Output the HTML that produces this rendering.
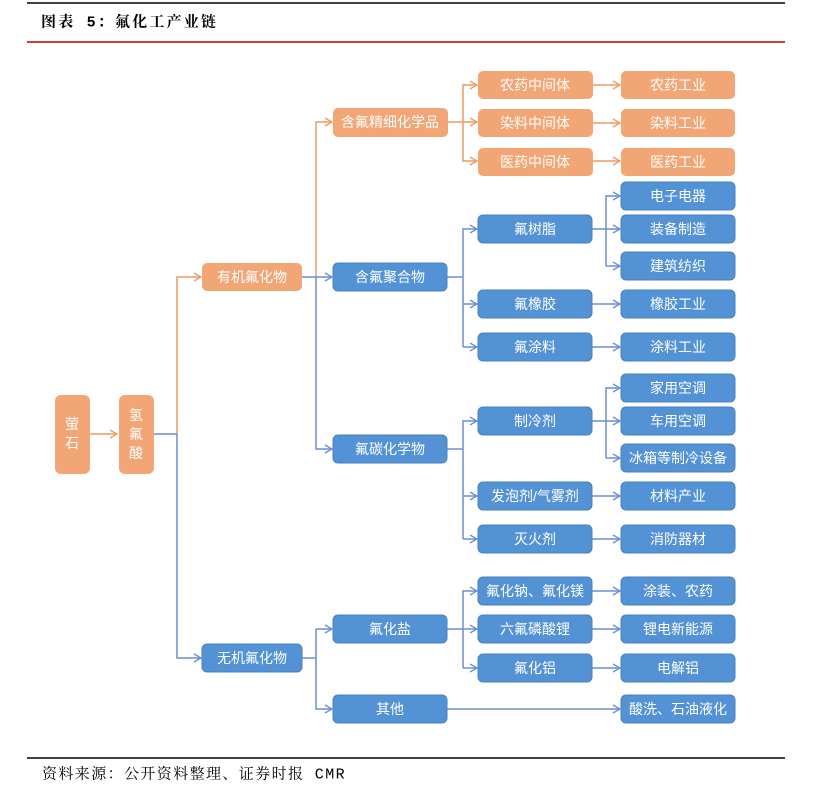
<!DOCTYPE html>
<html><head><meta charset="utf-8">
<style>
html,body{margin:0;padding:0;background:#fff;}
body{width:815px;height:803px;overflow:hidden;}
svg text{font-family:"Liberation Sans","Noto Sans CJK SC",sans-serif;fill:#fff;font-size:14px;text-anchor:middle;dominant-baseline:central;}
svg text.hd{font-family:"Liberation Mono","Noto Serif CJK SC",serif;fill:#000;text-anchor:start;font-size:15px;}
</style></head><body>
<svg width="815" height="803" viewBox="0 0 815 803" xmlns="http://www.w3.org/2000/svg">
<defs>
<marker id="ao" markerWidth="10" markerHeight="10" refX="8" refY="5" orient="auto" markerUnits="userSpaceOnUse"><polyline points="1,1 8,5 1,9" fill="none" stroke="#ee9a64" stroke-width="1.3"/></marker>
<marker id="ab" markerWidth="10" markerHeight="10" refX="8" refY="5" orient="auto" markerUnits="userSpaceOnUse"><polyline points="1,1 8,5 1,9" fill="none" stroke="#6a8fd4" stroke-width="1.3"/></marker>
</defs>
<line x1="27" y1="3" x2="785" y2="3" stroke="#000" stroke-width="1.5"/>
<text class="hd" x="41" y="23" font-weight="bold" letter-spacing="2.2">图表 5：氟化工产业链</text>
<line x1="27" y1="42" x2="785" y2="42" stroke="#c00000" stroke-width="1.5"/>
<line x1="27" y1="758" x2="785" y2="758" stroke="#000" stroke-width="1.5"/>
<text class="hd" x="42" y="775" letter-spacing="1.4">资料来源：公开资料整理、证券时报 CMR</text>

<g fill="none" stroke="#ee9a64" stroke-width="1.5">
<line x1="90" y1="434" x2="117" y2="434" marker-end="url(#ao)"/>
<polyline points="177,434 177,277 201,277" marker-end="url(#ao)"/>
<polyline points="316,277 316,122 332,122" marker-end="url(#ao)"/>
<line x1="448" y1="122" x2="477" y2="122" marker-end="url(#ao)"/>
<polyline points="463,122 463,85 477,85" marker-end="url(#ao)"/>
<polyline points="463,122 463,161 477,161" marker-end="url(#ao)"/>
<line x1="593" y1="85" x2="620" y2="85" marker-end="url(#ao)"/>
<line x1="593" y1="123" x2="620" y2="123" marker-end="url(#ao)"/>
<line x1="593" y1="161" x2="620" y2="161" marker-end="url(#ao)"/>
</g>
<g fill="none" stroke="#6a8fd4" stroke-width="1.5">
<line x1="154" y1="434" x2="177" y2="434"/>
<polyline points="177,434 177,658 201,658" marker-end="url(#ab)"/>
<line x1="302" y1="277" x2="332" y2="277" marker-end="url(#ab)"/>
<polyline points="316,277 316,449 332,449" marker-end="url(#ab)"/>
<line x1="302" y1="658" x2="316" y2="658"/>
<polyline points="316,629 316,709 332,709" marker-end="url(#ab)"/>
<line x1="316" y1="629" x2="332" y2="629" marker-end="url(#ab)"/>
<line x1="447" y1="277" x2="463" y2="277"/>
<polyline points="463,347 463,229 477,229" marker-end="url(#ab)"/>
<line x1="463" y1="304" x2="477" y2="304" marker-end="url(#ab)"/>
<line x1="463" y1="347" x2="477" y2="347" marker-end="url(#ab)"/>
<line x1="592" y1="229" x2="620" y2="229" marker-end="url(#ab)"/>
<polyline points="606,266 606,196 620,196" marker-end="url(#ab)"/>
<line x1="606" y1="266" x2="620" y2="266" marker-end="url(#ab)"/>
<line x1="592" y1="304" x2="620" y2="304" marker-end="url(#ab)"/>
<line x1="592" y1="347" x2="620" y2="347" marker-end="url(#ab)"/>
<line x1="447" y1="449" x2="463" y2="449"/>
<polyline points="463,539 463,421 477,421" marker-end="url(#ab)"/>
<line x1="463" y1="496" x2="477" y2="496" marker-end="url(#ab)"/>
<line x1="463" y1="539" x2="477" y2="539" marker-end="url(#ab)"/>
<line x1="592" y1="421" x2="620" y2="421" marker-end="url(#ab)"/>
<polyline points="606,458 606,388 620,388" marker-end="url(#ab)"/>
<line x1="606" y1="458" x2="620" y2="458" marker-end="url(#ab)"/>
<line x1="592" y1="496" x2="620" y2="496" marker-end="url(#ab)"/>
<line x1="592" y1="539" x2="620" y2="539" marker-end="url(#ab)"/>
<line x1="447" y1="629" x2="477" y2="629" marker-end="url(#ab)"/>
<polyline points="463,668 463,591 477,591" marker-end="url(#ab)"/>
<line x1="463" y1="668" x2="477" y2="668" marker-end="url(#ab)"/>
<line x1="592" y1="591" x2="620" y2="591" marker-end="url(#ab)"/>
<line x1="592" y1="629" x2="620" y2="629" marker-end="url(#ab)"/>
<line x1="592" y1="668" x2="620" y2="668" marker-end="url(#ab)"/>
<line x1="447" y1="709" x2="620" y2="709" marker-end="url(#ab)"/>
</g>

<g fill="#f2a676">
<rect x="55" y="395" width="35" height="79" rx="6"/>
<rect x="119" y="395" width="35" height="79" rx="6"/>
<rect x="202" y="263" width="100" height="28" rx="5"/>
<rect x="333" y="108" width="115" height="29" rx="5"/>
<rect x="478" y="71" width="115" height="28" rx="5"/>
<rect x="478" y="109" width="115" height="28" rx="5"/>
<rect x="478" y="148" width="115" height="28" rx="5"/>
<rect x="621" y="71" width="114" height="28" rx="5"/>
<rect x="621" y="109" width="114" height="28" rx="5"/>
<rect x="621" y="148" width="114" height="28" rx="5"/>
</g>
<g fill="#5392d4" stroke="#4a80c0" stroke-width="1">
<rect x="202" y="644" width="100" height="28" rx="5"/>
<rect x="333" y="263" width="114" height="28" rx="5"/>
<rect x="333" y="435" width="114" height="28" rx="5"/>
<rect x="333" y="615" width="114" height="28" rx="5"/>
<rect x="333" y="695" width="114" height="28" rx="5"/>
<rect x="478" y="215" width="114" height="28" rx="5"/>
<rect x="478" y="290" width="114" height="28" rx="5"/>
<rect x="478" y="333" width="114" height="28" rx="5"/>
<rect x="478" y="407" width="114" height="28" rx="5"/>
<rect x="478" y="482" width="114" height="28" rx="5"/>
<rect x="478" y="525" width="114" height="28" rx="5"/>
<rect x="478" y="577" width="114" height="28" rx="5"/>
<rect x="478" y="615" width="114" height="28" rx="5"/>
<rect x="478" y="654" width="114" height="28" rx="5"/>
<rect x="621" y="182" width="114" height="28" rx="5"/>
<rect x="621" y="215" width="114" height="28" rx="5"/>
<rect x="621" y="252" width="114" height="28" rx="5"/>
<rect x="621" y="290" width="114" height="28" rx="5"/>
<rect x="621" y="333" width="114" height="28" rx="5"/>
<rect x="621" y="374" width="114" height="28" rx="5"/>
<rect x="621" y="407" width="114" height="28" rx="5"/>
<rect x="621" y="444" width="114" height="28" rx="5"/>
<rect x="621" y="482" width="114" height="28" rx="5"/>
<rect x="621" y="525" width="114" height="28" rx="5"/>
<rect x="621" y="577" width="114" height="28" rx="5"/>
<rect x="621" y="615" width="114" height="28" rx="5"/>
<rect x="621" y="654" width="114" height="28" rx="5"/>
<rect x="621" y="695" width="114" height="28" rx="5"/>
</g>

<text x="72" y="424">萤</text><text x="72" y="443">石</text>
<text x="136" y="415">氢</text><text x="136" y="434">氟</text><text x="136" y="453">酸</text>
<text x="252" y="277" font-size="15">有机氟化物</text>
<text x="252" y="658" font-size="15">无机氟化物</text>
<text x="390" y="122" font-size="13">含氟精细化学品</text>
<text x="390" y="277" font-size="15">含氟聚合物</text>
<text x="390" y="449" font-size="15">氟碳化学物</text>
<text x="390" y="629" font-size="15">氟化盐</text>
<text x="390" y="709" font-size="15">其他</text>
<text x="535" y="85">农药中间体</text>
<text x="535" y="123">染料中间体</text>
<text x="535" y="162">医药中间体</text>
<text x="535" y="229">氟树脂</text>
<text x="535" y="304">氟橡胶</text>
<text x="535" y="347">氟涂料</text>
<text x="535" y="421">制冷剂</text>
<text x="535" y="496">发泡剂/气雾剂</text>
<text x="535" y="539">灭火剂</text>
<text x="535" y="591" font-size="13">氟化钠、氟化镁</text>
<text x="535" y="629">六氟磷酸锂</text>
<text x="535" y="668">氟化铝</text>
<text x="678" y="85">农药工业</text>
<text x="678" y="123">染料工业</text>
<text x="678" y="162">医药工业</text>
<text x="678" y="196">电子电器</text>
<text x="678" y="229">装备制造</text>
<text x="678" y="266">建筑纺织</text>
<text x="678" y="304">橡胶工业</text>
<text x="678" y="347">涂料工业</text>
<text x="678" y="388">家用空调</text>
<text x="678" y="421">车用空调</text>
<text x="678" y="458" font-size="13">冰箱等制冷设备</text>
<text x="678" y="496">材料产业</text>
<text x="678" y="539">消防器材</text>
<text x="678" y="591">涂装、农药</text>
<text x="678" y="629">锂电新能源</text>
<text x="678" y="668">电解铝</text>
<text x="678" y="709" font-size="13">酸洗、石油液化</text>
</svg>
</body></html>
